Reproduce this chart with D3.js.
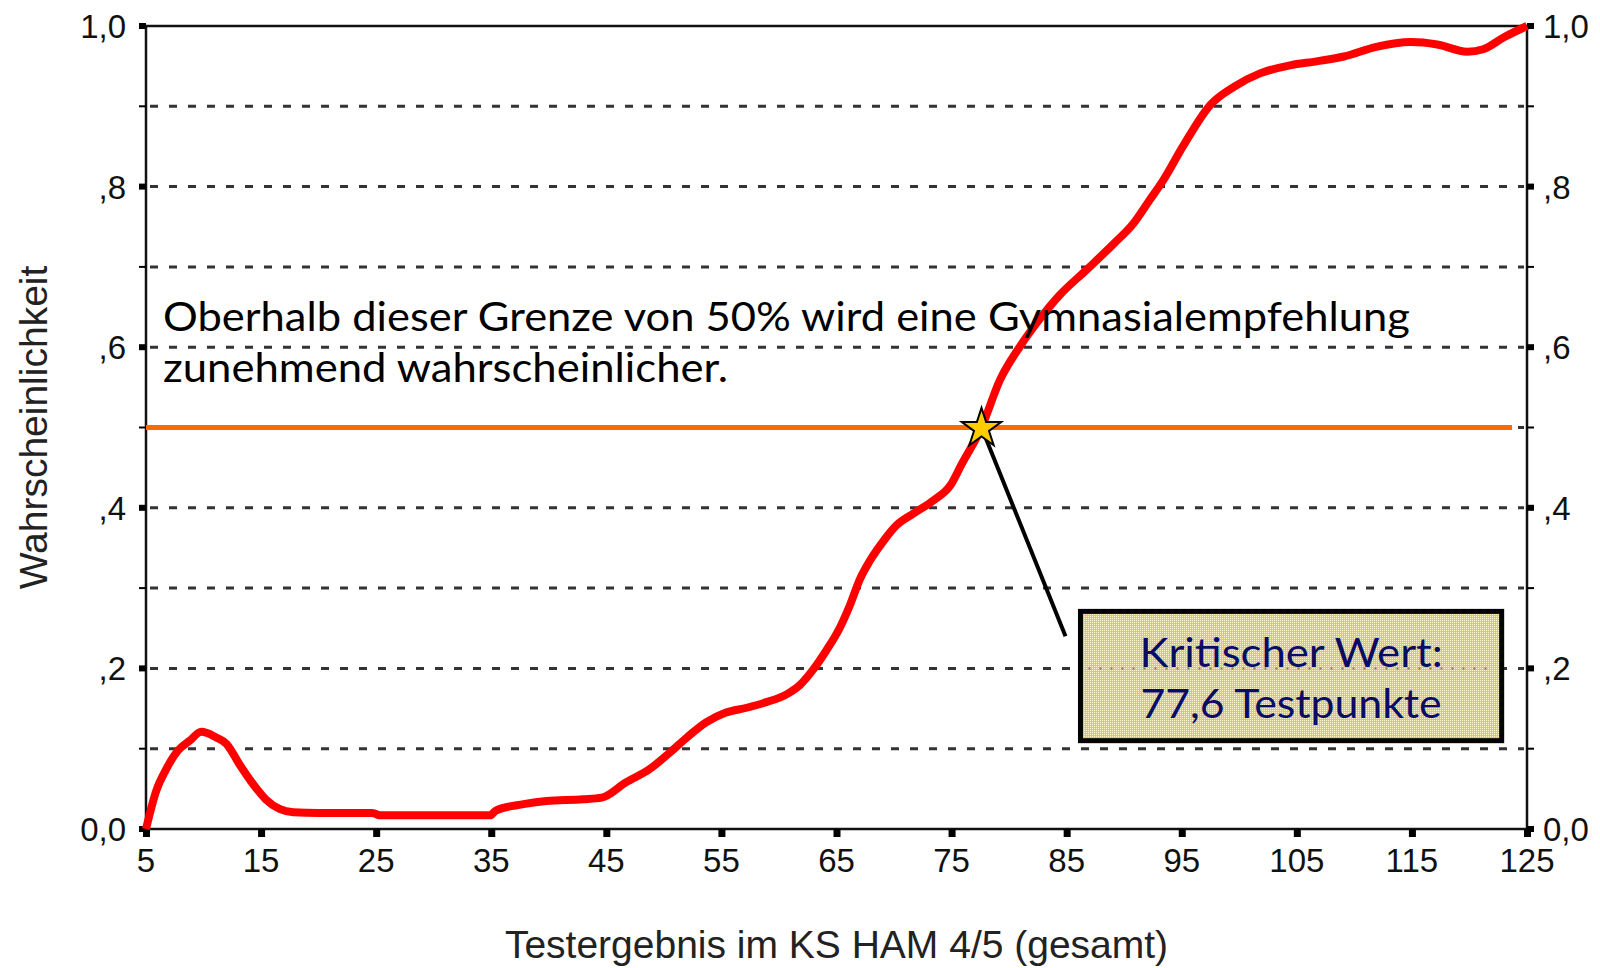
<!DOCTYPE html>
<html>
<head>
<meta charset="utf-8">
<script src="https://cdn.jsdelivr.net/npm/d3@7"></script>
<style>
  body { margin: 0; background: #fff; }
  .tick-label { font-family: "Liberation Sans", Arial, sans-serif; font-size: 33px; fill: #111; }
  .axis-title { font-family: "Liberation Sans", Arial, sans-serif; font-size: 39px; fill: #222; }
  .note { font-family: Lato, "Open Sans", sans-serif; font-size: 40px; fill: #000; }
  .box-text { font-family: Lato, "Open Sans", sans-serif; font-size: 40px; fill: #0b0b62; }
</style>
</head>
<body>
<div id="chart"></div>
<script>
// curve (score -> probability)
const scores = [5, 5.9, 6.7, 7.8, 8.8, 9.8, 11.1, 12.0, 13.1, 14.3, 15.4, 16.6, 17.8, 20, 24.7, 25.3, 30, 34.9, 35.4,
  37.8, 39.8, 43.0, 44.6, 46.7, 48.8, 50.5, 52.0, 53.7, 55.4, 57.2, 58.9, 60.7, 61.8, 63.0, 64.1, 65.3, 66.2, 67.0,
  67.9, 69.1, 70.2, 71.7, 73.4, 74.9, 75.9, 77.6, 79.2, 80.9, 82.6, 84.4, 86.7, 89.1, 90.8, 92.2, 93.4, 95.1, 97.5,
  99.5, 101.8, 104.4, 106.7, 109.1, 111.9, 114.9, 117.2, 119.8, 121.2, 123.0, 125];
const probs = [0, 0.048, 0.073, 0.098, 0.110, 0.121, 0.114, 0.106, 0.081, 0.056, 0.037, 0.025, 0.021, 0.020, 0.020,
  0.017, 0.017, 0.017, 0.023, 0.031, 0.035, 0.037, 0.039, 0.058, 0.075, 0.095, 0.114, 0.133, 0.145, 0.151, 0.158,
  0.168, 0.179, 0.199, 0.222, 0.251, 0.280, 0.310, 0.334, 0.359, 0.378, 0.393, 0.409, 0.428, 0.455, 0.5, 0.559,
  0.600, 0.634, 0.665, 0.696, 0.729, 0.754, 0.783, 0.808, 0.850, 0.902, 0.924, 0.941, 0.951, 0.956, 0.962, 0.974,
  0.980, 0.977, 0.968, 0.971, 0.986, 1.0];

const xTicks = [5, 15, 25, 35, 45, 55, 65, 75, 85, 95, 105, 115, 125];
const yTicks = [0, 0.2, 0.4, 0.6, 0.8, 1.0];
const yTickLabels = ['0,0', ',2', ',4', ',6', ',8', '1,0'];
const yMinorTicks = [0.1, 0.3, 0.5, 0.7, 0.9];
const gridValues = [0.1, 0.2, 0.3, 0.4, 0.5, 0.6, 0.7, 0.8, 0.9];

const threshold = 0.5;
const thresholdEnd = 123.7;
const criticalScore = 77.6;
const xTitle = 'Testergebnis im KS HAM 4/5 (gesamt)';
const yTitle = 'Wahrscheinlichkeit';
const noteLines = ['Oberhalb dieser Grenze von 50% wird eine Gymnasialempfehlung', 'zunehmend wahrscheinlicher.'];
const boxLines = ['Kritischer Wert:', '77,6 Testpunkte'];

const width = 1600, height = 968;
const x = d3.scaleLinear().domain([5, 125]).range([146, 1527]);
const y = d3.scaleLinear().domain([0, 1]).range([829, 26]);

const svg = d3.select('#chart').append('svg').attr('width', width).attr('height', height);

const defs = svg.append('defs');
const pat = defs.append('pattern').attr('id', 'dither').attr('width', 2).attr('height', 2)
  .attr('patternUnits', 'userSpaceOnUse');
pat.append('rect').attr('width', 2).attr('height', 2).attr('fill', '#ffcc00');
pat.append('rect').attr('width', 1).attr('height', 1).attr('fill', '#fff6cc');

// dashed grid
svg.append('g').selectAll('line').data(gridValues).enter().append('line')
  .attr('x1', x(5) + 4).attr('x2', x(125) - 3)
  .attr('y1', d => y(d)).attr('y2', d => y(d))
  .attr('stroke', '#333').attr('stroke-width', 3).attr('stroke-dasharray', '8,11');

// frame
svg.append('rect').attr('x', x(5)).attr('y', y(1)).attr('width', x(125) - x(5)).attr('height', y(0) - y(1))
  .attr('fill', 'none').attr('stroke', '#111').attr('stroke-width', 2.5);

// major tick squares, left/right/bottom
const sq = 7;
svg.append('g').selectAll('rect').data(yTicks).enter().append('rect')
  .attr('x', x(5) - sq).attr('y', d => y(d) - 3).attr('width', sq).attr('height', 6).attr('fill', '#000');
svg.append('g').selectAll('rect').data(yTicks).enter().append('rect')
  .attr('x', x(125)).attr('y', d => y(d) - 3).attr('width', sq).attr('height', 6).attr('fill', '#000');
svg.append('g').selectAll('rect').data(xTicks).enter().append('rect')
  .attr('x', d => x(d) - 3).attr('y', y(0)).attr('width', 7).attr('height', 8).attr('fill', '#000');
svg.append('g').selectAll('line').data(yMinorTicks).enter().append('line')
  .attr('x1', x(5) - 7).attr('x2', x(5)).attr('y1', d => y(d)).attr('y2', d => y(d))
  .attr('stroke', '#000').attr('stroke-width', 2);
svg.append('g').selectAll('line').data(yMinorTicks).enter().append('line')
  .attr('x1', x(125)).attr('x2', x(125) + 7).attr('y1', d => y(d)).attr('y2', d => y(d))
  .attr('stroke', '#000').attr('stroke-width', 2);

// tick labels
svg.append('g').selectAll('text').data(yTicks).enter().append('text')
  .attr('class', 'tick-label').attr('x', x(5) - 20).attr('y', d => y(d) + 12)
  .attr('text-anchor', 'end').text((d, i) => yTickLabels[i]);
svg.append('g').selectAll('text').data(yTicks).enter().append('text')
  .attr('class', 'tick-label').attr('x', x(125) + 16).attr('y', d => y(d) + 12)
  .attr('text-anchor', 'start').text((d, i) => yTickLabels[i]);
svg.append('g').selectAll('text').data(xTicks).enter().append('text')
  .attr('class', 'tick-label').attr('x', d => x(d)).attr('y', 872)
  .attr('text-anchor', 'middle').text(d => d);

// axis titles
svg.append('text').attr('class', 'axis-title').attr('x', (x(5) + x(125)) / 2).attr('y', 958)
  .attr('text-anchor', 'middle').text(xTitle);
svg.append('text').attr('class', 'axis-title')
  .attr('transform', `translate(47, ${(y(0) + y(1)) / 2}) rotate(-90)`)
  .attr('text-anchor', 'middle').text(yTitle);

// threshold line
svg.append('line').attr('x1', x(5)).attr('x2', x(thresholdEnd))
  .attr('y1', y(threshold)).attr('y2', y(threshold))
  .attr('stroke', '#ff6a00').attr('stroke-width', 5);

// curve
const path = d3.line().x(d => x(d[0])).y(d => y(d[1])).curve(d3.curveMonotoneX);
svg.append('path').datum(scores.map((s, i) => [s, probs[i]]))
  .attr('d', path).attr('fill', 'none').attr('stroke', '#ff0000').attr('stroke-width', 8)
  .attr('stroke-linejoin', 'round');

// note text
svg.append('g').selectAll('text').data(noteLines).enter().append('text')
  .attr('class', 'note').attr('x', 163).attr('y', (d, i) => 331 + i * 51)
  .attr('textLength', (d, i) => i === 0 ? 1247 : 565).attr('lengthAdjust', 'spacingAndGlyphs')
  .text(d => d);

// connector + box
svg.append('line').attr('x1', x(criticalScore) + 2).attr('y1', y(threshold) + 5)
  .attr('x2', x(84.9)).attr('y2', y(0.24)).attr('stroke', '#000').attr('stroke-width', 4);

const bx0 = x(86.2), bx1 = x(122.8), by0 = y(0.271), by1 = y(0.11);
svg.append('rect').attr('x', bx0).attr('y', by0).attr('width', bx1 - bx0).attr('height', by1 - by0)
  .attr('fill', 'url(#dither)').attr('stroke', '#000').attr('stroke-width', 5);
svg.append('line').attr('x1', bx0 + 8).attr('x2', bx1 - 8).attr('y1', y(0.2)).attr('y2', y(0.2))
  .attr('stroke', '#8a7a40').attr('stroke-width', 2).attr('stroke-dasharray', '2,9');
svg.append('g').selectAll('text').data(boxLines).enter().append('text')
  .attr('class', 'box-text').attr('x', (bx0 + bx1) / 2).attr('y', (d, i) => 667 + i * 51)
  .attr('text-anchor', 'middle')
  .attr('textLength', (d, i) => i === 0 ? 303 : 301).attr('lengthAdjust', 'spacingAndGlyphs')
  .text(d => d);

// star at the critical value
svg.append('path').attr('d', d3.symbol(d3.symbolStar).size(480))
  .attr('transform', `translate(${x(criticalScore)}, ${y(threshold) + 1})`)
  .attr('fill', '#ffcc00').attr('stroke', '#000').attr('stroke-width', 2);
</script>
</body>
</html>
